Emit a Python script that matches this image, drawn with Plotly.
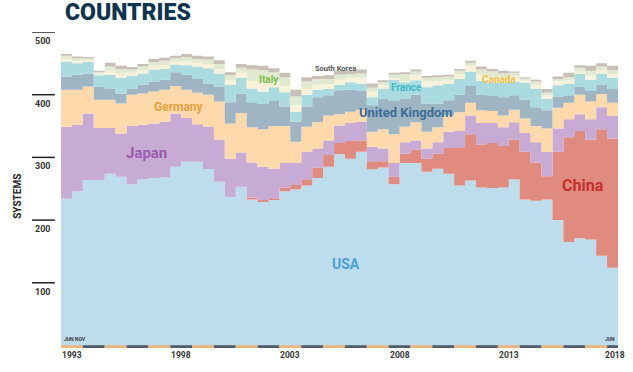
import plotly.graph_objects as go

# ---------------- data (TOP500 systems per country, Jun 1993 .. Jun 2018) -------------
periods = []
for yr in range(1993, 2019):
    periods.append(f"Jun {yr}")
    if yr < 2018:
        periods.append(f"Nov {yr}")

usa = [234, 246, 264, 264, 274, 269, 257, 265, 267, 268, 285, 293, 293, 281, 261, 237, 253,
       233, 229, 232, 246, 249, 255, 267, 285, 305, 298, 309, 281, 284, 257, 291, 291, 277,
       282, 274, 255, 263, 252, 251, 252, 265, 233, 231, 233, 200, 165, 171, 169, 143, 124]
china = [0, 0, 0, 0, 0, 0, 0, 0, 0, 0, 0, 0, 0, 0, 0, 0, 0,
         3, 3, 3, 6, 7, 10, 17, 19, 18, 28, 18, 13, 10, 12, 15, 21, 21,
         24, 41, 61, 74, 68, 72, 66, 63, 76, 61, 37, 109, 167, 171, 159, 202, 206]
japan = [115, 106, 106, 83, 73, 69, 93, 87, 87, 89, 85, 70, 60, 68, 67, 61, 55,
         56, 53, 47, 39, 35, 44, 30, 23, 28, 29, 30, 23, 20, 22, 18, 15, 16,
         18, 26, 26, 30, 35, 32, 30, 28, 30, 32, 39, 37, 29, 27, 33, 35, 36]
germany = [59, 56, 43, 45, 45, 48, 50, 50, 51, 51, 44, 45, 50, 51, 61, 56, 63,
           56, 60, 68, 59, 34, 40, 42, 40, 18, 18, 19, 24, 31, 46, 25, 29, 27,
           24, 26, 30, 20, 20, 19, 19, 20, 23, 26, 37, 33, 26, 31, 28, 21, 21]
uk = [21, 24, 21, 21, 18, 16, 10, 14, 16, 16, 22, 24, 22, 18, 24, 34, 31,
      40, 40, 40, 31, 32, 32, 40, 32, 38, 35, 30, 42, 48, 53, 45, 44, 45,
      38, 24, 28, 27, 25, 24, 29, 23, 30, 30, 29, 18, 12, 13, 17, 15, 22]
france = [24, 18, 18, 18, 22, 25, 20, 18, 19, 17, 12, 15, 20, 24, 21, 28, 25,
          22, 20, 22, 23, 16, 19, 12, 10, 9, 12, 12, 13, 17, 34, 26, 23, 26,
          29, 26, 25, 23, 22, 21, 23, 22, 27, 30, 18, 18, 18, 20, 18, 18, 18]
canada = [4, 4, 3, 3, 6, 7, 5, 5, 6, 6, 5, 6, 6, 7, 7, 7, 8,
          12, 14, 10, 10, 11, 9, 8, 8, 8, 7, 9, 9, 5, 2, 2, 8, 9,
          6, 6, 8, 9, 10, 11, 9, 9, 4, 6, 6, 6, 6, 4, 7, 5, 6]
italy = [5, 4, 3, 2, 7, 7, 5, 6, 6, 7, 5, 7, 6, 7, 8, 8, 8,
         18, 20, 14, 14, 13, 12, 9, 8, 8, 6, 7, 6, 5, 6, 11, 6, 6,
         7, 6, 5, 5, 8, 7, 6, 5, 3, 5, 4, 4, 5, 6, 7, 6, 6]
south_korea = [3, 3, 2, 2, 6, 5, 4, 4, 5, 5, 4, 5, 5, 5, 6, 5, 6,
               7, 7, 6, 7, 11, 7, 5, 6, 6, 5, 6, 7, 3, 3, 3, 3, 3,
               3, 3, 3, 3, 5, 4, 4, 2, 2, 3, 6, 4, 7, 4, 8, 5, 7]

countries = ["USA", "China", "Japan", "Germany", "United Kingdom", "France",
             "Canada", "Italy", "South Korea"]
series = [usa, china, japan, germany, uk, france, canada, italy, south_korea]
fill_colors = ["#bddcec", "#e08a80", "#c7abd4", "#fdd9ab", "#9fb5c3", "#a9dbe0",
               "#f8f2d9", "#e2e9d1", "#c8c0b7"]
label_colors = ["#4a9fd3", "#c5302b", "#9a5cae", "#e7a13d", "#3d6e98", "#3dbcc8",
                "#f0c04a", "#80c14a", "#555555"]

y_ticks = [100, 200, 300, 400, 500]
year_labels = [1993, 1998, 2003, 2008, 2013, 2018]

# ---------------- helpers ----------------
def period_pos(p):
    mon, yr = p.split()
    return int(yr) + (0.0 if mon == "Jun" else 0.5)

xs = [period_pos(p) for p in periods]
x_end = xs[-1] + 0.5
xs_step = xs + [x_end]

fig = go.Figure()
for name, vals, col in zip(countries, series, fill_colors):
    fig.add_trace(go.Scatter(
        x=xs_step, y=vals + [vals[-1]], name=name, mode="lines",
        stackgroup="one", line=dict(width=0, shape="hv"),
        fillcolor=col, hoverinfo="skip", showlegend=False))

FONT = "Roboto"

# y tick lines + labels
shapes = []
annotations = []
for t in y_ticks:
    shapes.append(dict(type="line", xref="paper", yref="y", x0=-0.052, x1=-0.011,
                       y0=t, y1=t, line=dict(color="#222222", width=1.5)))
    annotations.append(dict(xref="paper", yref="y", x=-0.050, y=t, text=str(t),
                            showarrow=False, xanchor="left", yanchor="top", yshift=-2,
                            font=dict(family=FONT, size=9, color="#333333", weight="bold")))

# alternating year strip along the bottom
start_year = int(xs[0])
for k, yr in enumerate(range(start_year, int(x_end) + 1)):
    x0 = yr
    x1 = min(yr + 1, x_end)
    shapes.append(dict(type="rect", xref="x", yref="y", x0=x0, x1=x1, y0=-4, y1=0.5,
                       line=dict(width=0),
                       fillcolor="#e8b57c" if k % 2 == 0 else "#4f5e6c", layer="above"))

# year labels (last one sits at the right edge)
for yr in year_labels:
    xa = yr + 0.5 if yr < year_labels[-1] else x_end - 0.13
    annotations.append(dict(xref="x", yref="paper", x=xa, y=0, yshift=0,
                            text=str(yr), showarrow=False, xanchor="center", yanchor="top",
                            font=dict(family=FONT, size=8.5, color="#333333", weight="bold")))

# JUN / NOV small marks
annotations.append(dict(xref="x", yref="y", x=xs[0], y=2, text="JUN NOV", showarrow=False,
                        xanchor="left", yanchor="bottom", xshift=1,
                        font=dict(family=FONT, size=5, color="#333333", weight="bold")))
annotations.append(dict(xref="x", yref="y", x=x_end, y=2, text="JUN", showarrow=False,
                        xanchor="right", yanchor="bottom", xshift=-1,
                        font=dict(family=FONT, size=5, color="#333333", weight="bold")))

# series labels: (name, x position in years, value level, font size)
label_spec = [
    ("USA", 2006.05, 130, 14),
    ("China", 2016.9, 255, 16),
    ("Japan", 1996.9, 307, 15),
    ("Germany", 1998.4, 381, 12),
    ("United Kingdom", 2008.8, 371, 13),
    ("France", 2008.8, 411, 10),
    ("Italy", 2002.5, 425, 10),
    ("South Korea", 2005.55, 441, 7.5),
    ("Canada", 2013.05, 424, 10),
]
for name, xp, lvl, sz in label_spec:
    i = countries.index(name)
    annotations.append(dict(xref="x", yref="y", x=xp, y=lvl, text=name,
                            showarrow=False, xanchor="center", yanchor="middle",
                            font=dict(family=FONT, size=sz, color=label_colors[i], weight="bold")))

# title + axis title
annotations.append(dict(xref="paper", yref="paper", x=0.003, y=1.0, yshift=35,
                        text="COUNTRIES", showarrow=False, xanchor="left", yanchor="top",
                        font=dict(family=FONT, size=23, color="#0e3450", weight=900)))
annotations.append(dict(xref="paper", yref="paper", x=-0.078, y=0.48, text="SYSTEMS",
                        textangle=-90, showarrow=False, xanchor="center", yanchor="middle",
                        font=dict(family=FONT, size=10, color="#222222", weight="bold")))

fig.update_layout(
    width=633, height=372,
    margin=dict(l=61, r=15, t=32, b=24),
    paper_bgcolor="white", plot_bgcolor="white",
    xaxis=dict(range=[xs[0], x_end], showgrid=False, zeroline=False, showticklabels=False,
               ticks="", showline=False, fixedrange=True),
    yaxis=dict(range=[-4, 500], showgrid=False, zeroline=False, showticklabels=False,
               ticks="", showline=False, fixedrange=True),
    shapes=shapes, annotations=annotations, showlegend=False,
)

fig.write_html("out.html", config={"displayModeBar": False, "staticPlot": True},
               post_script="document.body.style.margin='0';document.body.style.padding='0';"
                           "document.body.style.overflow='hidden';")
